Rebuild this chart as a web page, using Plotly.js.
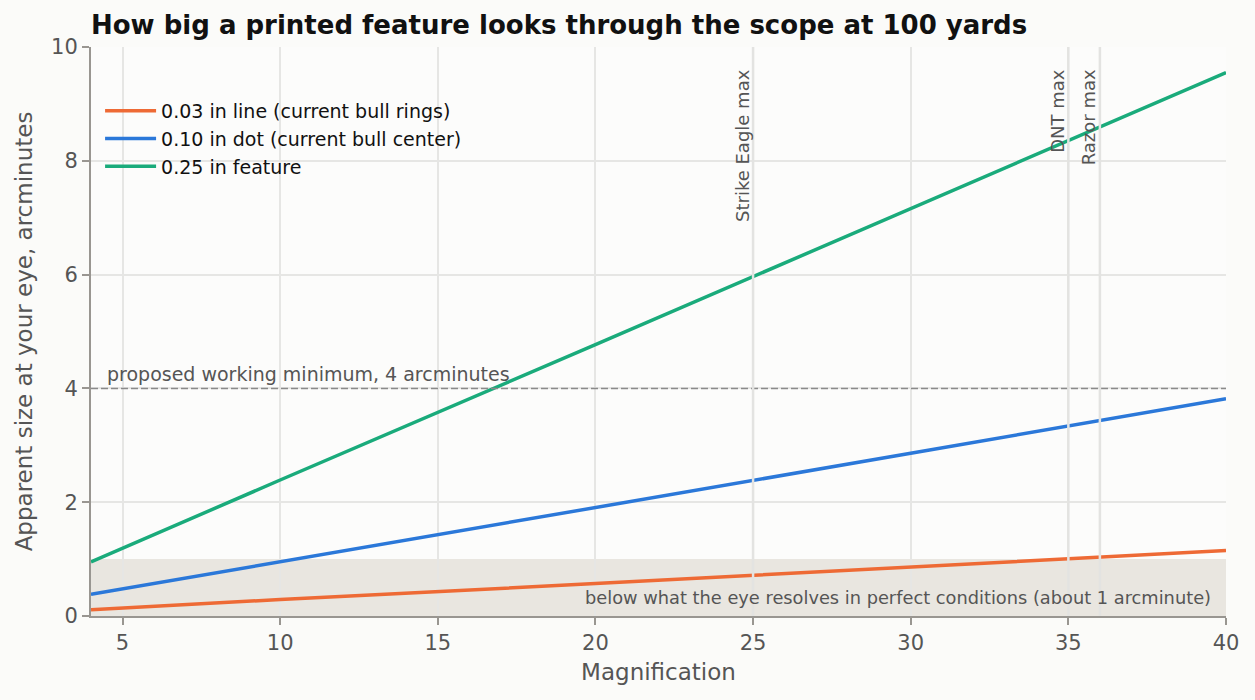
<!DOCTYPE html>
<html>
<head>
<meta charset="utf-8">
<script src="https://cdn.plot.ly/plotly-3.0.1.min.js"></script>
<style>html,body{margin:0;padding:0;background:#fbfbf9}</style>
</head>
<body>
<div id="chart" style="width:1255px;height:700px"></div>
<script>
// magnification sample points
const magnification = [4, 10, 20, 30, 40];
// apparent size in arcminutes
const lineRings = [0.11, 0.29, 0.57, 0.86, 1.15];
const dotCenter = [0.38, 0.95, 1.91, 2.86, 3.82];
const feature25 = [0.95, 2.39, 4.77, 7.16, 9.55];

const seriesNames = ['0.03 in line (current bull rings)', '0.10 in dot (current bull center)', '0.25 in feature'];
const seriesColors = ['#ee6a35', '#2b78d9', '#1aab7b'];

const scopeMax = [25, 35, 36];
const scopeLabels = ['Strike Eagle max', 'DNT max', 'Razor max'];
const workingMin = 4;
const eyeLimit = 1;

const FONT = 'DejaVu Sans, sans-serif';

const data = [lineRings, dotCenter, feature25].map((y, i) => ({
  x: magnification, y: y, name: seriesNames[i], type: 'scatter', mode: 'lines',
  line: { color: seriesColors[i], width: 3.5 }
}));

const shapes = [
  { type: 'rect', xref: 'x', yref: 'y', x0: 4, x1: 40, y0: 0, y1: eyeLimit,
    fillcolor: '#e9e6e0', line: { width: 0 }, layer: 'below' },
  { type: 'line', xref: 'x', yref: 'y', x0: 4, x1: 40, y0: workingMin, y1: workingMin,
    line: { color: '#8a8a8a', width: 1.5, dash: '7px,3px' }, layer: 'above' }
].concat(scopeMax.map(m => ({
  type: 'line', xref: 'x', yref: 'paper', x0: m, x1: m, y0: 0, y1: 1,
  line: { color: '#e3e3e1', width: 2.5 }, layer: 'above'
})));

const annotations = [
  { x: 4.45, y: workingMin, xref: 'x', yref: 'y', text: 'proposed working minimum, 4 arcminutes',
    showarrow: false, xanchor: 'left', yanchor: 'bottom', yshift: 1,
    font: { family: FONT, size: 19, color: '#555' } },
  { x: 39.6, y: 0.32, xref: 'x', yref: 'y', text: 'below what the eye resolves in perfect conditions (about 1 arcminute)',
    showarrow: false, xanchor: 'right', yanchor: 'middle',
    font: { family: FONT, size: 17.8, color: '#555' } }
].concat(scopeMax.map((m, i) => ({
  x: m, y: 9.65, xref: 'x', yref: 'y', text: scopeLabels[i], textangle: -90,
  showarrow: false, xanchor: 'right', yanchor: 'top', xshift: 2,
  font: { family: FONT, size: 18, color: '#555' }
})));

const layout = {
  width: 1255, height: 700,
  paper_bgcolor: '#fbfbf9', plot_bgcolor: '#fcfcfb',
  font: { family: FONT, color: '#555' },
  margin: { l: 91, r: 29, t: 47, b: 84 },
  title: { text: '<b>How big a printed feature looks through the scope at 100 yards</b>',
    x: 91 / 1255, xanchor: 'left', y: 0.964, yanchor: 'middle',
    font: { family: FONT, size: 26, color: '#111' } },
  xaxis: {
    range: [4, 40], tickvals: [5, 10, 15, 20, 25, 30, 35, 40],
    showgrid: true, gridcolor: '#e6e6e4', gridwidth: 1.5, zeroline: false,
    showline: true, linecolor: '#999691', linewidth: 2,
    ticks: 'outside', ticklen: 7, tickcolor: '#999691', tickwidth: 1.5,
    tickfont: { family: FONT, size: 21, color: '#555' },
    title: { text: 'Magnification', font: { family: FONT, size: 23, color: '#555' }, standoff: 10 }
  },
  yaxis: {
    range: [0, 10], tickvals: [0, 2, 4, 6, 8, 10],
    showgrid: true, gridcolor: '#e6e6e4', gridwidth: 1.5, zeroline: false,
    showline: true, linecolor: '#999691', linewidth: 2,
    ticks: 'outside', ticklen: 7, tickcolor: '#999691', tickwidth: 1.5,
    tickfont: { family: FONT, size: 21, color: '#555' },
    title: { text: 'Apparent size at your eye, arcminutes', font: { family: FONT, size: 23, color: '#555' }, standoff: 12 }
  },
  showlegend: true,
  legend: { x: 0.008, y: 0.921, xanchor: 'left', yanchor: 'top', bgcolor: 'rgba(0,0,0,0)',
    font: { family: FONT, size: 19, color: '#111' }, itemwidth: 51, tracegroupgap: 0 },
  shapes: shapes,
  annotations: annotations
};

Plotly.newPlot('chart', data, layout, { displayModeBar: false });
</script>
</body>
</html>
